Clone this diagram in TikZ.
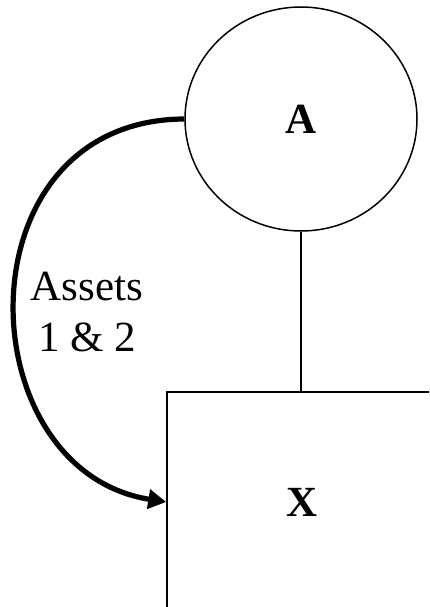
\documentclass[tikz,border=0pt]{standalone}
\usepackage{fontspec}
\setmainfont{Liberation Serif}
\usepackage{tikz}
\usetikzlibrary{calc, arrows.meta, shapes.geometric}
\tikzset{>=latex}
\tikzset{
  bigtext/.style = {font=\fontsize{43}{51}\selectfont},
  entity/.style  = {draw, ellipse, line width=1.5pt, minimum width=232pt, minimum height=224pt, inner sep=0pt, bigtext},
  holder/.style  = {draw, rectangle, line width=1.5pt, minimum width=270pt, minimum height=220pt, inner sep=0pt, bigtext},
  transfer/.style = {line width=5.2pt, -{Triangle[length=18pt,width=19pt]}}
}

\begin{document}
\begin{tikzpicture}[x=1pt, y=-1pt]
\useasboundingbox (0,0) rectangle (429,607);
\clip (0,0) rectangle (429,607);
\node[entity] (A) at (301,119) {\textbf{A}};
\node[holder] (X) at (302,502) {\textbf{X}};
\draw[line width=1.5pt] (A.south) -- (A.south |- X.north);
\draw[transfer] (A.west) .. controls (-42,120) and (-34,470) .. (X.west);
\node[bigtext, align=center] (assets) at (87,312) {Assets\\1 \& 2};
\end{tikzpicture}
\end{document}
